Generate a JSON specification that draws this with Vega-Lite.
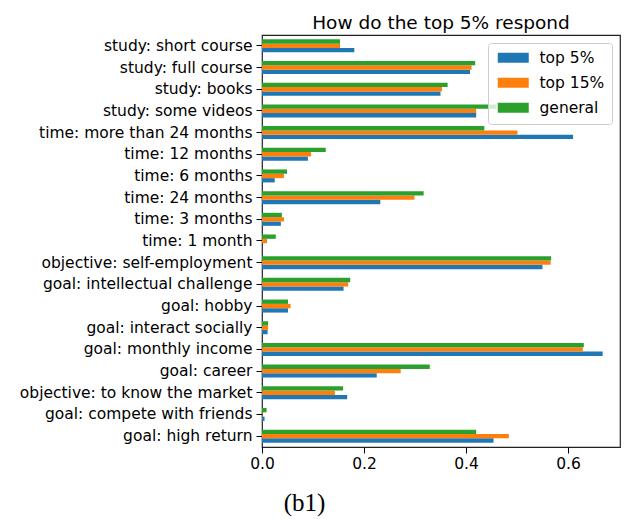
{
  "$schema": "https://vega.github.io/schema/vega-lite/v6.json",
  "autosize": {"type": "none"},
  "padding": {"left": 262, "top": 35, "right": 7, "bottom": 72},
  "width": 358,
  "height": 412,
  "background": "white",
  "title": {"text": "How do the top 5% respond", "font": "DejaVu Sans", "fontSize": 18.5, "fontWeight": "normal", "color": "black", "anchor": "middle", "frame": "group", "baseline": "bottom", "offset": 5, "dy": 21},
  "config": {
    "font": "DejaVu Sans",
    "view": {"stroke": "#222", "strokeWidth": 1.2},
    "axis": {"labelFont": "DejaVu Sans", "labelFontSize": 15.5, "labelColor": "black", "tickColor": "black", "tickSize": 6, "grid": false, "domain": false, "labelPadding": 4, "labelLimit": 400}
  },
  "data": {"values": [
    {"item": "study: short course", "group": "top 5%", "value": 0.181},
    {"item": "study: short course", "group": "top 15%", "value": 0.153},
    {"item": "study: short course", "group": "general", "value": 0.153},
    {"item": "study: full course", "group": "top 5%", "value": 0.408},
    {"item": "study: full course", "group": "top 15%", "value": 0.411},
    {"item": "study: full course", "group": "general", "value": 0.418},
    {"item": "study: books", "group": "top 5%", "value": 0.350},
    {"item": "study: books", "group": "top 15%", "value": 0.353},
    {"item": "study: books", "group": "general", "value": 0.364},
    {"item": "study: some videos", "group": "top 5%", "value": 0.420},
    {"item": "study: some videos", "group": "top 15%", "value": 0.420},
    {"item": "study: some videos", "group": "general", "value": 0.46},
    {"item": "time: more than 24 months", "group": "top 5%", "value": 0.610},
    {"item": "time: more than 24 months", "group": "top 15%", "value": 0.501},
    {"item": "time: more than 24 months", "group": "general", "value": 0.436},
    {"item": "time: 12 months", "group": "top 5%", "value": 0.090},
    {"item": "time: 12 months", "group": "top 15%", "value": 0.096},
    {"item": "time: 12 months", "group": "general", "value": 0.125},
    {"item": "time: 6 months", "group": "top 5%", "value": 0.025},
    {"item": "time: 6 months", "group": "top 15%", "value": 0.043},
    {"item": "time: 6 months", "group": "general", "value": 0.049},
    {"item": "time: 24 months", "group": "top 5%", "value": 0.232},
    {"item": "time: 24 months", "group": "top 15%", "value": 0.299},
    {"item": "time: 24 months", "group": "general", "value": 0.317},
    {"item": "time: 3 months", "group": "top 5%", "value": 0.037},
    {"item": "time: 3 months", "group": "top 15%", "value": 0.043},
    {"item": "time: 3 months", "group": "general", "value": 0.039},
    {"item": "time: 1 month", "group": "top 5%", "value": 0.0},
    {"item": "time: 1 month", "group": "top 15%", "value": 0.010},
    {"item": "time: 1 month", "group": "general", "value": 0.027},
    {"item": "objective: self-employment", "group": "top 5%", "value": 0.550},
    {"item": "objective: self-employment", "group": "top 15%", "value": 0.566},
    {"item": "objective: self-employment", "group": "general", "value": 0.567},
    {"item": "goal: intellectual challenge", "group": "top 5%", "value": 0.160},
    {"item": "goal: intellectual challenge", "group": "top 15%", "value": 0.169},
    {"item": "goal: intellectual challenge", "group": "general", "value": 0.173},
    {"item": "goal: hobby", "group": "top 5%", "value": 0.051},
    {"item": "goal: hobby", "group": "top 15%", "value": 0.056},
    {"item": "goal: hobby", "group": "general", "value": 0.051},
    {"item": "goal: interact socially", "group": "top 5%", "value": 0.011},
    {"item": "goal: interact socially", "group": "top 15%", "value": 0.012},
    {"item": "goal: interact socially", "group": "general", "value": 0.012},
    {"item": "goal: monthly income", "group": "top 5%", "value": 0.668},
    {"item": "goal: monthly income", "group": "top 15%", "value": 0.629},
    {"item": "goal: monthly income", "group": "general", "value": 0.631},
    {"item": "goal: career", "group": "top 5%", "value": 0.225},
    {"item": "goal: career", "group": "top 15%", "value": 0.272},
    {"item": "goal: career", "group": "general", "value": 0.329},
    {"item": "objective: to know the market", "group": "top 5%", "value": 0.167},
    {"item": "objective: to know the market", "group": "top 15%", "value": 0.143},
    {"item": "objective: to know the market", "group": "general", "value": 0.159},
    {"item": "goal: compete with friends", "group": "top 5%", "value": 0.005},
    {"item": "goal: compete with friends", "group": "top 15%", "value": 0.001},
    {"item": "goal: compete with friends", "group": "general", "value": 0.009},
    {"item": "goal: high return", "group": "top 5%", "value": 0.454},
    {"item": "goal: high return", "group": "top 15%", "value": 0.484},
    {"item": "goal: high return", "group": "general", "value": 0.420}
  ]},
  "mark": {"type": "bar"},
  "encoding": {
    "y": {"field": "item", "type": "nominal", "sort": null, "scale": {"paddingInner": 0, "paddingOuter": 0}, "axis": {"title": null}},
    "yOffset": {"field": "group", "type": "nominal", "scale": {"domain": ["general", "top 15%", "top 5%"], "paddingInner": 0, "paddingOuter": 1.5}},
    "x": {"field": "value", "type": "quantitative", "scale": {"domain": [0, 0.702], "nice": false, "zero": true}, "axis": {"values": [0, 0.2, 0.4, 0.6], "format": ".1f", "labelFlush": false, "title": "(b1)", "titleFont": "Liberation Serif", "titleFontSize": 25, "titleFontWeight": "normal", "titleColor": "black", "titleX": 42, "titleY": 63, "titleAlign": "center", "titleBaseline": "alphabetic", "labelPadding": 3}},
    "color": {"field": "group", "type": "nominal", "scale": {"domain": ["top 5%", "top 15%", "general"], "range": ["#1f77b4", "#ff7f0e", "#2ca02c"]}, "legend": {"title": null, "orient": "top-right", "offset": 8, "padding": 7, "strokeColor": "#cccccc", "cornerRadius": 3, "fillColor": "rgba(255,255,255,0.8)", "labelFontSize": 15.5, "labelFont": "DejaVu Sans", "labelColor": "black", "symbolType": "M-1,-1H5.2V1H-1Z", "symbolSize": 100, "symbolStrokeWidth": 0, "symbolOpacity": 1, "labelOffset": 29, "rowPadding": 8}}
  }
}
